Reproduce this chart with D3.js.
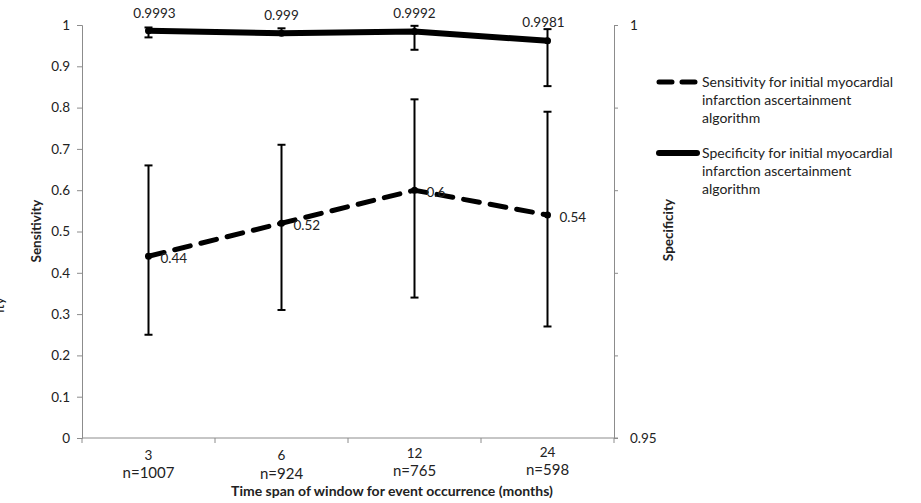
<!DOCTYPE html>
<html><head><meta charset="utf-8">
<script src="https://cdn.jsdelivr.net/npm/d3@7"></script>
<style>
body{margin:0;background:#fff;}
text{font-family:Lato,"Open Sans",sans-serif;fill:#222;}
</style></head><body>
<svg id="c" width="921" height="503"></svg>
<script>
const categories = ["3","6","12","24"];
const sampleSizes = ["n=1007","n=924","n=765","n=598"];
const sensitivity = [0.44,0.52,0.6,0.54];
const sensLow = [0.25,0.31,0.34,0.27];
const sensHigh = [0.66,0.71,0.82,0.79];
const specificity = [0.9993,0.999,0.9992,0.9981];
const specLow = [0.9985,0.9988,0.9970,0.9926];
const specHigh = [0.9997,0.9996,0.9999,0.9995];
const leftTicks = [0,0.1,0.2,0.3,0.4,0.5,0.6,0.7,0.8,0.9,1];
const rightTicks = [0.95,0.96,0.97,0.98,0.99,1];
const rightLabels = [0.95,1];
const legendLabels = [["Sensitivity for initial myocardial","infarction ascertainment","algorithm"],
                      ["Specificity for initial myocardial","infarction ascertainment","algorithm"]];

const svg = d3.select("#c");
const L=82, R=614, T=25, B=438;
const x = d3.scaleBand().domain(categories).range([L,R]);
const yL = d3.scaleLinear().domain([0,1]).range([B,T]);
const yR = d3.scaleLinear().domain([0.95,1]).range([B,T]);
const cx = c => x(c)+x.bandwidth()/2;
const axisCol="#8c8c8c";

// left axis
const gl = svg.append("g").attr("transform",`translate(${L},0)`)
  .call(d3.axisLeft(yL).tickValues(leftTicks).tickSize(5).tickPadding(7).tickFormat(d=>d3.format("")(+d.toFixed(1))));
gl.select(".domain").attr("stroke",axisCol);
gl.selectAll(".tick line").attr("stroke",axisCol);
gl.selectAll(".tick text").attr("font-size",13.5).attr("font-family","Lato").attr("fill","#222");

// right axis
const gr = svg.append("g").attr("transform",`translate(${R},0)`)
  .call(d3.axisRight(yR).tickValues(rightTicks).tickSize(4).tickPadding(12)
   .tickFormat(d=>rightLabels.some(v=>Math.abs(v-d)<1e-9)?d3.format("")(d):""));
gr.select(".domain").attr("stroke",axisCol);
gr.selectAll(".tick line").attr("stroke",axisCol);
gr.selectAll(".tick text").attr("font-size",13.5).attr("font-family","Lato").attr("fill","#222");

// x axis
svg.append("line").attr("x1",L).attr("x2",R+4).attr("y1",B).attr("y2",B).attr("stroke",axisCol);
const bounds = categories.map(c=>x(c)).concat([R]);
svg.selectAll(".xt").data(bounds).join("line").attr("x1",d=>d).attr("x2",d=>d)
  .attr("y1",B).attr("y2",B+5).attr("stroke",axisCol);
const catDy=[0,0,-2,-3], nDy=[0,1,-2,-3];
svg.selectAll(".xc").data(categories).join("text").attr("x",d=>cx(d)).attr("y",(d,i)=>460+catDy[i])
  .attr("text-anchor","middle").attr("font-size",13.5).text(d=>d);
svg.selectAll(".xn").data(sampleSizes).join("text").attr("x",(d,i)=>cx(categories[i])).attr("y",(d,i)=>478+nDy[i])
  .attr("text-anchor","middle").attr("font-size",15).text(d=>d);

// axis titles
svg.append("text").attr("x",392).attr("y",496).attr("text-anchor","middle").attr("font-size",14).attr("font-weight","bold")
  .text("Time span of window for event occurrence (months)");
svg.append("text").attr("transform","translate(41,231) rotate(-90)").attr("text-anchor","middle").attr("font-size",13.5).attr("font-weight","bold").text("Sensitivity");
svg.append("text").attr("transform","translate(673,230) rotate(-90)").attr("text-anchor","middle").attr("font-size",13.5).attr("font-weight","bold").text("Specificity");
svg.append("text").attr("transform","translate(4,305) rotate(-90)").attr("text-anchor","middle").attr("font-size",14).text("ity");

// error bars
function errBars(low,high,scale){
  const g=svg.append("g").attr("stroke","#000").attr("stroke-width",2);
  categories.forEach((c,i)=>{
    const X=cx(c);
    g.append("line").attr("x1",X).attr("x2",X).attr("y1",scale(low[i])).attr("y2",scale(high[i]));
    [low[i],high[i]].forEach(v=>g.append("line").attr("x1",X-4).attr("x2",X+4).attr("y1",scale(v)).attr("y2",scale(v)));
  });
}
errBars(sensLow,sensHigh,yL);
errBars(specLow,specHigh,yR);

// lines
const lineL=d3.line().x((d,i)=>cx(categories[i])).y(d=>yL(d));
const lineR=d3.line().x((d,i)=>cx(categories[i])).y(d=>yR(d));
svg.append("path").attr("d",lineL(sensitivity)).attr("fill","none").attr("stroke","#000").attr("stroke-width",5)
  .attr("stroke-dasharray","16,11").attr("stroke-linecap","round");
svg.append("path").attr("d",lineR(specificity)).attr("fill","none").attr("stroke","#000").attr("stroke-width",6)
  .attr("stroke-linecap","round");
svg.selectAll(".ms").data(sensitivity).join("circle").attr("cx",(d,i)=>cx(categories[i])).attr("cy",d=>yL(d)).attr("r",3.5).attr("fill","#000");
svg.selectAll(".mp").data(specificity).join("circle").attr("cx",(d,i)=>cx(categories[i])).attr("cy",d=>yR(d)).attr("r",3.5).attr("fill","#000");

// data labels
svg.selectAll(".ls").data(sensitivity).join("text").attr("x",(d,i)=>cx(categories[i])+12).attr("y",d=>yL(d)+7)
  .attr("font-size",13.5).text(d=>d3.format("")(d));
const specDy=[-13,-13,-14,-14];
svg.selectAll(".lp").data(specificity).join("text").attr("x",(d,i)=>cx(categories[i])+[6,0,0,-4][i]).attr("y",(d,i)=>yR(d)+specDy[i])
  .attr("text-anchor","middle").attr("font-size",13.5).text(d=>d3.format("")(d));

// legend
const lg=svg.append("g");
[0,1].forEach(k=>{
  const y0=[82,153][k];
  lg.append("line").attr("x1",659).attr("x2",697).attr("y1",y0).attr("y2",y0).attr("stroke","#000")
    .attr("stroke-width",k?6:5).attr("stroke-linecap","round").attr("stroke-dasharray",k?null:"13,10");
  legendLabels[k].forEach((t,j)=>lg.append("text").attr("x",702).attr("y",y0+5+j*18).attr("font-size",14).text(t));
});
</script></body></html>
